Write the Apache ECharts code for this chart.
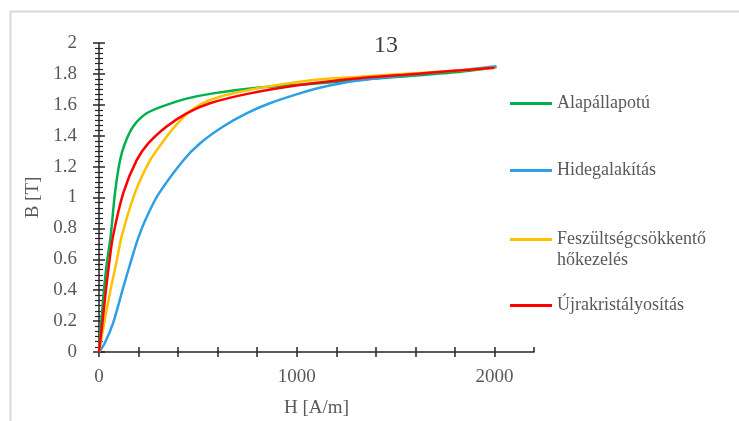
<!DOCTYPE html>
<html>
<head>
<meta charset="utf-8">
<script src="https://cdn.jsdelivr.net/npm/echarts@6/dist/echarts.min.js"></script>
<style>
  html, body { margin: 0; padding: 0; background: #fff; }
  #main { width: 739px; height: 421px; }
</style>
</head>
<body>
<div id="main"></div>
<script>
// H [A/m], B [T] pairs
var alapH = [0, 12, 25, 40, 59, 81, 106, 131, 173, 241, 342, 443, 577, 800, 1116, 1500, 1800, 2010]
var alapB = [0, 0.2, 0.4, 0.58, 0.75, 1.03, 1.24, 1.35, 1.46, 1.545, 1.6, 1.64, 1.674, 1.71, 1.74, 1.78, 1.81, 1.845]

var hidegH = [0, 30, 72, 123, 160, 199, 240, 300, 426, 510, 628, 746, 864, 1015, 1116, 1300, 1500, 1800, 2010]
var hidegB = [0, 0.06, 0.19, 0.42, 0.58, 0.74, 0.87, 1.02, 1.24, 1.35, 1.46, 1.545, 1.61, 1.674, 1.71, 1.755, 1.785, 1.82, 1.85]

var feszH = [0, 28, 58, 88, 115, 182, 258, 317, 384, 468, 561, 712, 1082, 1300, 1600, 1800, 2000]
var feszB = [0, 0.2, 0.4, 0.58, 0.75, 1.03, 1.24, 1.35, 1.46, 1.566, 1.631, 1.685, 1.76, 1.78, 1.805, 1.82, 1.84]

var ujraH = [0, 18, 35, 52, 71, 123, 190, 249, 342, 443, 561, 763, 1015, 1300, 1600, 1800, 2000]
var ujraB = [0, 0.2, 0.4, 0.58, 0.75, 1.03, 1.24, 1.35, 1.46, 1.545, 1.61, 1.674, 1.728, 1.77, 1.8, 1.82, 1.84]

var names = ['Alapállapotú', 'Hidegalakítás', 'Feszültségcsökkentő', 'Újrakristályosítás']
var colors = ['#00B050', '#2E9FE6', '#FFC000', '#FF0000']

function pairs(xs, ys) {
  var out = []
  for (var i = 0; i < xs.length; i++) {
    out.push([xs[i], ys[i]])
  }
  return out
}

var font = 'Liberation Serif'
var grey = '#595959'
var gridPos = { left: 99, right: 205, top: 43, bottom: 69, outerBoundsMode: 'none' }

var chart = echarts.init(document.getElementById('main'))

function legendAt(name, top) {
  return {
    data: [name],
    orient: 'vertical',
    left: 505,
    top: top,
    itemWidth: 42,
    itemHeight: 3,
    icon: 'rect',
    selectedMode: false,
    formatter: function (n) {
      // blank first line keeps the icon level with the first text line
      return n === 'Feszültségcsökkentő' ? '\u00a0\nFeszültségcsökkentő\nhőkezelés' : n
    },
    textStyle: {
      fontFamily: font,
      fontSize: 18,
      color: grey,
      lineHeight: 21
    }
  }
}

var option = {
  animation: false,
  backgroundColor: '#fff',
  title: {
    text: '13',
    left: 381,
    top: 29,
    textAlign: 'center',
    textStyle: { fontFamily: font, fontSize: 24, fontWeight: 'normal', color: '#404040' }
  },
  legend: [
    legendAt(names[0], 88),
    legendAt(names[1], 155),
    legendAt(names[2], 203),
    legendAt(names[3], 290)
  ],
  grid: [
    Object.assign({}, gridPos),
    Object.assign({}, gridPos)
  ],
  xAxis: [
    {
      type: 'value',
      gridIndex: 0,
      min: 0,
      max: 2200,
      interval: 200,
      name: 'H [A/m]',
      nameLocation: 'middle',
      nameGap: 47,
      nameTextStyle: { fontFamily: font, fontSize: 19, color: grey },
      axisLine: { show: true, lineStyle: { color: '#262626', width: 1.5 } },
      axisTick: { show: true, length: 5, lineStyle: { color: '#262626', width: 1.5 } },
      axisLabel: {
        fontFamily: font,
        fontSize: 19,
        color: grey,
        margin: 16,
        showMaxLabel: false,
        formatter: function (v) { return v % 1000 === 0 ? String(v) : '' }
      },
      splitLine: { show: false }
    },
    {
      type: 'value',
      gridIndex: 1,
      min: 0,
      max: 2200,
      interval: 200,
      axisLine: { show: false },
      axisTick: { show: true, inside: true, length: 5, lineStyle: { color: '#262626', width: 1.5 } },
      axisLabel: { show: false },
      splitLine: { show: false }
    }
  ],
  yAxis: [
    {
      type: 'value',
      gridIndex: 0,
      min: 0,
      max: 2,
      interval: 0.2,
      name: 'B [T]',
      nameLocation: 'middle',
      nameRotate: 90,
      nameGap: 54,
      nameTextStyle: { fontFamily: font, fontSize: 19, color: grey },
      axisLine: { show: true, lineStyle: { color: '#262626', width: 1.5 } },
      axisTick: { show: true, length: 6, lineStyle: { color: '#262626', width: 1.5 } },
      minorTick: { show: true, splitNumber: 6, length: 4, lineStyle: { color: '#262626', width: 1.2 } },
      axisLabel: {
        fontFamily: font,
        fontSize: 19,
        color: grey,
        margin: 22,
        formatter: function (v) { return String(Math.round(v * 10) / 10) }
      },
      splitLine: { show: false }
    },
    {
      type: 'value',
      gridIndex: 1,
      min: 0,
      max: 2,
      interval: 0.2,
      axisLine: { show: false },
      axisTick: { show: true, inside: true, length: 6, lineStyle: { color: '#262626', width: 1.5 } },
      minorTick: { show: true, splitNumber: 6, length: 4, lineStyle: { color: '#262626', width: 1.2 } },
      axisLabel: { show: false },
      splitLine: { show: false }
    }
  ],
  graphic: [
    {
      type: 'polyline',
      silent: true,
      shape: { points: [[10.5, 421], [10.5, 11.5], [739, 11.5]] },
      style: { stroke: '#d9d9d9', lineWidth: 2, fill: null }
    }
  ],
  series: [
    { name: names[0], data: pairs(alapH, alapB) },
    { name: names[1], data: pairs(hidegH, hidegB) },
    { name: names[2], data: pairs(feszH, feszB) },
    { name: names[3], data: pairs(ujraH, ujraB) }
  ].map(function (s, i) {
    return Object.assign(s, {
      type: 'line',
      xAxisIndex: 0,
      yAxisIndex: 0,
      smooth: 0.3,
      showSymbol: false,
      color: colors[i],
      lineStyle: { color: colors[i], width: 2.5 }
    })
  })
}

chart.setOption(option)
</script>
</body>
</html>
